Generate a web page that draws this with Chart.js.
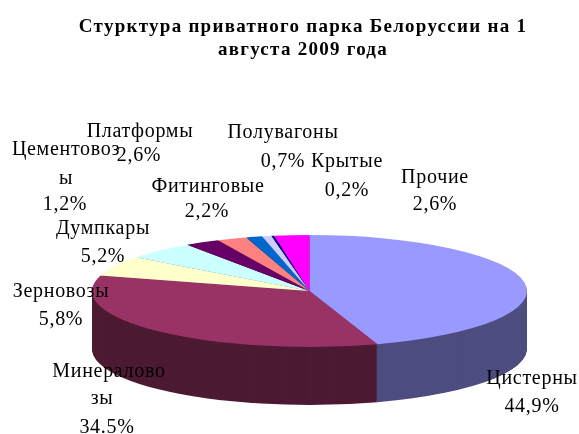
<!DOCTYPE html>
<html lang="ru">
<head>
<meta charset="utf-8">
<title>Структура приватного парка</title>
<script src="https://cdn.jsdelivr.net/npm/chart.js@4"></script>
<style>
  html, body { margin: 0; padding: 0; background: #fff; }
  #wrap { width: 579px; height: 434px; }
</style>
</head>
<body>
<div id="wrap"><canvas id="pie" width="579" height="434"></canvas></div>
<script>
const titleLines = ['Стурктура приватного парка Белоруссии на 1', 'августа 2009 года'];
const categories = ['Цистерны', 'Минераловозы', 'Зерновозы', 'Думпкары', 'Платформы', 'Фитинговые', 'Цементовозы', 'Полувагоны', 'Крытые', 'Прочие'];
const shares = [44.9, 34.5, 5.8, 5.2, 2.6, 2.2, 1.2, 0.7, 0.2, 2.6];
const topColors = ['#9999FF', '#993366', '#FFFFCC', '#CCFFFF', '#660066', '#FF8080', '#0066CC', '#CCCCFF', '#000080', '#FF00FF'];
const sideColors = ['#4D4D80', '#4D1A33', '#808066', '#668080', '#330033', '#804040', '#003366', '#666680', '#000040', '#800080'];

// label lines as the original wraps them: [text, centre x, middle y]
const labelLines = [
  [['Цистерны', 532, 379], ['44,9%', 532, 407]],
  [['Минералово', 109, 372], ['зы', 102, 399], ['34.5%', 107, 428]],
  [['Зерновозы', 61, 292], ['5,8%', 61, 320]],
  [['Думпкары', 103, 229], ['5,2%', 103, 257]],
  [['Платформы', 140, 132], ['2,6%', 139, 156]],
  [['Фитинговые', 208, 187], ['2,2%', 207, 212]],
  [['Цементовоз', 66, 150], ['ы', 66, 179], ['1,2%', 65, 205]],
  [['Полувагоны', 283, 133], ['0,7%', 283, 162]],
  [['Крытые', 347, 162], ['0,2%', 347, 191]],
  [['Прочие', 435, 178], ['2,6%', 435, 205]]
];

const FONT = '"Liberation Serif", "Times New Roman", serif';
const DEPTH = 58;      // height of the pie wall
const RADIUS_X = 217.5;
const RADIUS_Y = 56;
const SHIFT_X = 6.5;   // the pie sits a little right of the title centre

/** Squashes the context so the library's round arcs come out as a flat ellipse */
function squash(ctx, arc, dy) {
  const r = arc.outerRadius;
  ctx.translate(arc.x + SHIFT_X, arc.y + dy);
  ctx.scale(RADIUS_X / r, RADIUS_Y / r);
  ctx.translate(-arc.x, -arc.y);
}

const tiltedPie = {
  id: 'tiltedPie',
  beforeDraw(chart) {
    chart.ctx.letterSpacing = '1.26px'; // the title is set wide in the original
  },
  beforeDatasetDraw(chart, args) {
    const ctx = chart.ctx;
    const arcs = args.meta.data;

    // Wall: the same arcs stacked from the bottom up in the dark colours
    for (let dy = DEPTH; dy > 0; dy--) {
      arcs.forEach((arc, i) => {
        const topOptions = arc.options;
        arc.options = Object.assign({}, topOptions, { backgroundColor: sideColors[i] });
        ctx.save();
        squash(ctx, arc, dy);
        arc.draw(ctx);
        ctx.restore();
        arc.options = topOptions;
      });
    }

    // Top face
    arcs.forEach(arc => {
      ctx.save();
      squash(ctx, arc, 0);
      arc.draw(ctx);
      ctx.restore();
    });
    return false;
  },
  afterDraw(chart) {
    const ctx = chart.ctx;
    ctx.save();
    ctx.fillStyle = '#000';
    ctx.font = '20px ' + FONT;
    ctx.letterSpacing = '0.7px';
    ctx.textAlign = 'center';
    ctx.textBaseline = 'middle';
    labelLines.forEach(lines => {
      lines.forEach(([text, x, y]) => ctx.fillText(text, x, y));
    });
    ctx.restore();
  }
};

new Chart(document.getElementById('pie'), {
  type: 'pie',
  data: {
    labels: categories,
    datasets: [{
      data: shares,
      backgroundColor: topColors,
      borderWidth: 0
    }]
  },
  options: {
    responsive: false,
    animation: false,
    events: [],
    layout: { padding: { left: 27, right: 0, top: 16, bottom: 0 } },
    plugins: {
      legend: { display: false },
      tooltip: { enabled: false },
      title: {
        display: true,
        text: titleLines,
        color: '#000',
        font: { family: FONT, size: 19, weight: 'bold', lineHeight: 1.21 },
        padding: { top: 0, bottom: 86 }
      }
    }
  },
  plugins: [tiltedPie]
});
</script>
</body>
</html>
